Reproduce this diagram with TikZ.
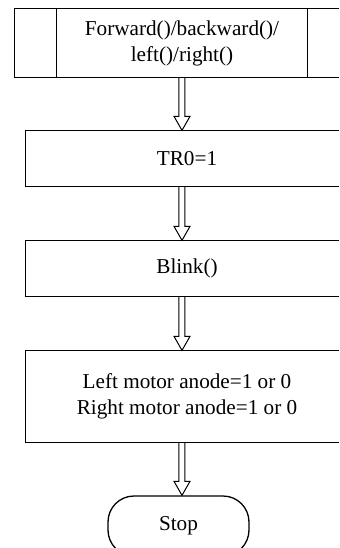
\documentclass[tikz,border=0pt]{standalone}
\usepackage{fontspec}
\setmainfont{Liberation Serif}
\usetikzlibrary{calc}

\newcommand{\hollowarrow}[2]{%
  \draw[line width=0.5pt, line join=miter]
    ($(#1)+(-3,0)$) -- ($(#2)+(-3,-14)$) -- ($(#2)+(-8,-14)$) -- (#2)
    -- ($(#2)+(8,-14)$) -- ($(#2)+(3,-14)$) -- ($(#1)+(3,0)$);}
% box whose right side runs off the page
\newcommand{\openbox}[1]{%
  \draw ([xshift=30pt]#1.north east) -- (#1.north west) -- (#1.south west)
    -- ([xshift=30pt]#1.south east);}

\begin{document}
\begin{tikzpicture}[x=0.5pt, y=-0.5pt, line width=0.65pt,
    every node/.style={font=\fontsize{10.6}{13}\selectfont, align=center},
    procbox/.style={rectangle, inner sep=0pt, minimum width=161pt}]
  \path[use as bounding box, clip] (0,0) rectangle (339,548);
  \node[procbox, minimum width=167pt, minimum height=34pt] (b1) at (182,43)
    {Forward()/backward()/\\left()/right()};
  \openbox{b1}
  \draw (b1.north west) ++(42,0) coordinate (l1) -- (l1 |- b1.south);
  \draw (b1.north east) ++(-42,0) coordinate (r1) -- (r1 |- b1.south);
  \node[procbox, minimum height=27.5pt] (b2) at (187,158.5) {TR0=1};
  \node[procbox, minimum height=27.5pt] (b3) at (187,268.5) {Blink()};
  \node[procbox, minimum height=45.5pt] (b4) at (187,396.5)
    {Left motor anode=1 or 0\\Right motor anode=1 or 0};
  \openbox{b2}
  \openbox{b3}
  \openbox{b4}
  \node[draw, rounded corners=13pt, minimum width=70.5pt, minimum height=30pt]
    (stop) at (178.5,526) {Stop};
  % hollow arrows
  \coordinate (a0) at (b1.south);
  \hollowarrow{a0}{b2.north -| a0}
  \hollowarrow{b2.south -| a0}{b3.north -| a0}
  \hollowarrow{b3.south -| a0}{b4.north -| a0}
  \hollowarrow{b4.south -| a0}{stop.north -| a0}
\end{tikzpicture}
\end{document}
